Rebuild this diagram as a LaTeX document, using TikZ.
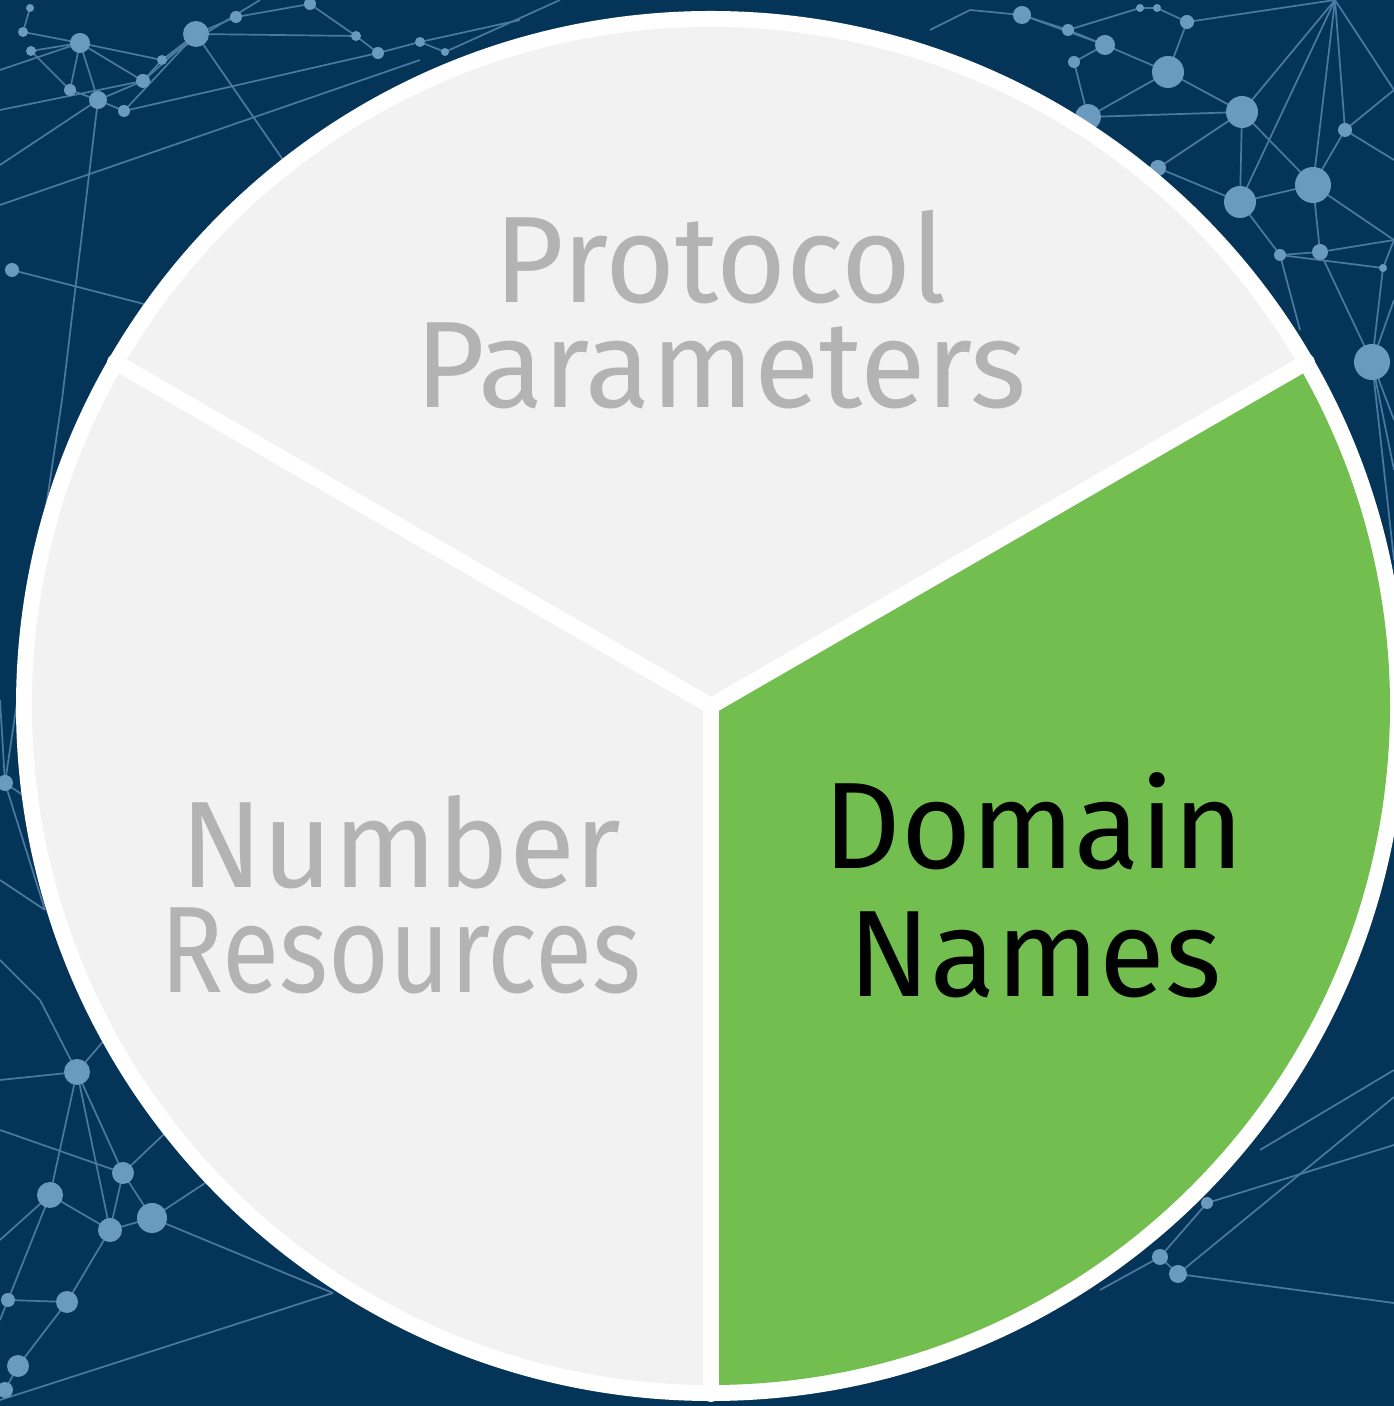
\documentclass[tikz,border=0pt]{standalone}
\usepackage{fontspec}
\usepackage{graphicx}
\setmainfont{Fira Sans}
\definecolor{bg}{RGB}{4,53,88}
\definecolor{netline}{RGB}{74,122,162}
\definecolor{netdot}{RGB}{106,154,190}
\definecolor{slicegray}{RGB}{242,242,242}
\definecolor{slicegreen}{RGB}{114,191,80}
\definecolor{labelgray}{RGB}{179,179,179}
\begin{document}
\begin{tikzpicture}[x=1pt,y=1pt,
  netedge/.style={draw=netline, line width=1.7pt},
  netnode/.style={fill=netdot},
  divider/.style={draw=white, line width=16pt, line cap=round},
  lbl/.style={inner sep=0pt, anchor=base, font=\fontsize{123}{123}\selectfont}]
\fill[bg] (0,0) rectangle (1394,1406);
\useasboundingbox (0,0) rectangle (1394,1406);

% ---------- network background (image coordinates, y downwards) ----------
\begin{scope}[shift={(0,1406)}, y=-1pt]
  \foreach \n/\x/\y in {
    a1/23/32, a2/31/51, a3/80/43, a4/196/34, a5/236/17, a6/162/60, a7/143/81,
    a8/70/90, a9/98/100, a10/124/111, a11/310/4, a12/356/36, a13/378/53,
    a14/12/270, a15/420/42, a16/445/52, a17/30/8,
    t1/0/205, t2/420/60, t3/0/110, t4/62/400, t6/290/170, t7/140/303, t8/260/340,
    t11/0/70, t12/560/0, t13/520/20, t14/0/165, t15/260/0,
    b1/1022/15, b2/1068/30, b4/1105/45, b5/1074/62, b6/1140/8, b7/1157/8,
    b8/1187/22, b9/1168/72, b10/1242/112, b11/1088/117, b12/1158/168,
    b13/1240/202, b14/1313/185, b15/1345/130, b16/1280/255, b17/1320/252,
    b18/1372/362, b19/1335/0, b20/1383/268, b21/970/10, b22/930/30,
    r1/1394/90, r2/1394/160, r3/1394/240, r4/1394/300, r5/1394/420,
    r6/1394/470, r7/1394/560, r9/1300/330,
    c1/77/1072, c2/123/1173, c3/50/1195, c4/152/1218, c5/110/1230,
    c6/8/1300, c7/67/1302, c8/18/1366, c9/5/1390, c10/5/783,
    l1/0/1080, l2/0/1240, l3/0/1320, l4/333/1293, l5/0/1400, l6/40/1000,
    l7/0/960, l8/130/1010, l9/200/1100, l10/0/700, l11/60/820, l12/45/910,
    l13/0/880, l15/240/1160, l16/0/1130,
    d1/1160/1257, d2/1178/1274, d3/1207/1203,
    q1/1394/1303, q2/1394/1097, q3/1394/1145, q4/1394/1070, q5/1100/1290,
    q6/1260/1150}
    \coordinate (\n) at (\x,\y);
  \foreach \a/\b in {
    a3/a1, a3/a2, a3/a8, a3/a9, a3/a6, a3/a7, a3/t11, a1/a17, a9/a10,
    a9/a7, a7/a6, a7/a4, a6/a4, a4/a5, a4/a10, a10/a13, a4/a12, a12/a13,
    a13/a15, a15/a16, a5/a11, a11/a12, a8/a9, a2/a8, a16/t12, a15/t13,
    t1/t2, t3/a7, a9/t4, t4/c10, a4/t6, a14/t7, t7/t8, t14/a9, a6/t15,
    b19/b10, b19/b15, b19/b13, b19/r1, b19/b14, b19/b8, b10/b9, b10/b13,
    b10/b11, b10/b14, b10/b12, b9/b4, b9/b8, b9/b11, b4/b2, b4/b5, b4/b1,
    b1/b2, b2/b6, b8/b7, b6/b7, b13/b14, b13/b16, b13/b12, b14/b17,
    b14/b15, b14/r3, b15/r1, b16/b17, b17/b18, b16/b20, b20/b18, b18/r4,
    b18/r5, b17/r3, b1/b21, b21/b22, b5/b11, b18/r6, b15/r2, b20/r3,
    b18/r7, b16/r9,
    c1/c2, c1/c5, c1/l1, c1/l6, c1/l8, c2/c4, c2/c5, c2/l9, c3/c5, c3/c1,
    c3/l2, c4/c5, c4/l4, c5/c7, c7/c8, c7/c6, c8/c9, c6/l3, c6/c3,
    l5/l4, c10/l10, c10/l11, c10/l12, l13/l12, l7/l6, c4/l15, c2/l16,
    d2/q1, d2/q2, d3/q3, d1/d3, d1/d2, q6/q4, d1/q5}
    \draw[netedge] (\a) -- (\b);
  \foreach \n/\r in {
    a1/5, a2/5, a3/10, a4/13, a5/6, a6/5, a7/7, a8/6, a9/9, a10/6, a11/6,
    a12/5, a13/6, a14/7, a15/5, a16/4, a17/4,
    b1/9, b2/6, b4/10, b5/6, b6/4, b7/4, b8/7, b9/16, b10/16, b11/13,
    b12/8, b13/16, b14/18, b15/7, b16/6, b17/8, b18/18, b20/4,
    c1/13, c2/11, c3/13, c4/15, c5/12, c6/7, c7/11, c8/11, c9/8, c10/8,
    d1/8, d2/9, d3/6}
    \fill[netnode] (\n) circle[radius=\r pt];
\end{scope}

% ---------- pie ----------
\coordinate (C) at (711,700);
\fill[white] (C) circle[radius=695];
\fill[slicegray] (C) -- ++(30:679) arc[start angle=30, end angle=150, radius=679] -- cycle;
\fill[slicegray] (C) -- ++(150:679) arc[start angle=150, end angle=270, radius=679] -- cycle;
\fill[slicegreen] (C) -- ++(-90:679) arc[start angle=-90, end angle=30, radius=679] -- cycle;
\foreach \a in {30,150,270}
  \draw[divider] (C) -- ++(\a:688);

% ---------- labels ----------
\node[lbl, text=labelgray] (protocol) at (721,1103) {\scalebox{0.976}[1]{Protocol}};
\node[lbl, text=labelgray] (parameters) at (721,998) {\scalebox{0.976}[1]{Parameters}};
\node[lbl, text=labelgray] (number) at (401,518) {\scalebox{0.984}[1]{Number}};
\node[lbl, text=labelgray] (resources) at (401,413) {\scalebox{0.85}[1]{Resources}};
\node[lbl, text=black] (domain) at (1034,537) {\scalebox{0.979}[1]{Domain}};
\node[lbl, text=black] (names) at (1035,409) {\scalebox{0.978}[1]{Names}};
\end{tikzpicture}
\end{document}
